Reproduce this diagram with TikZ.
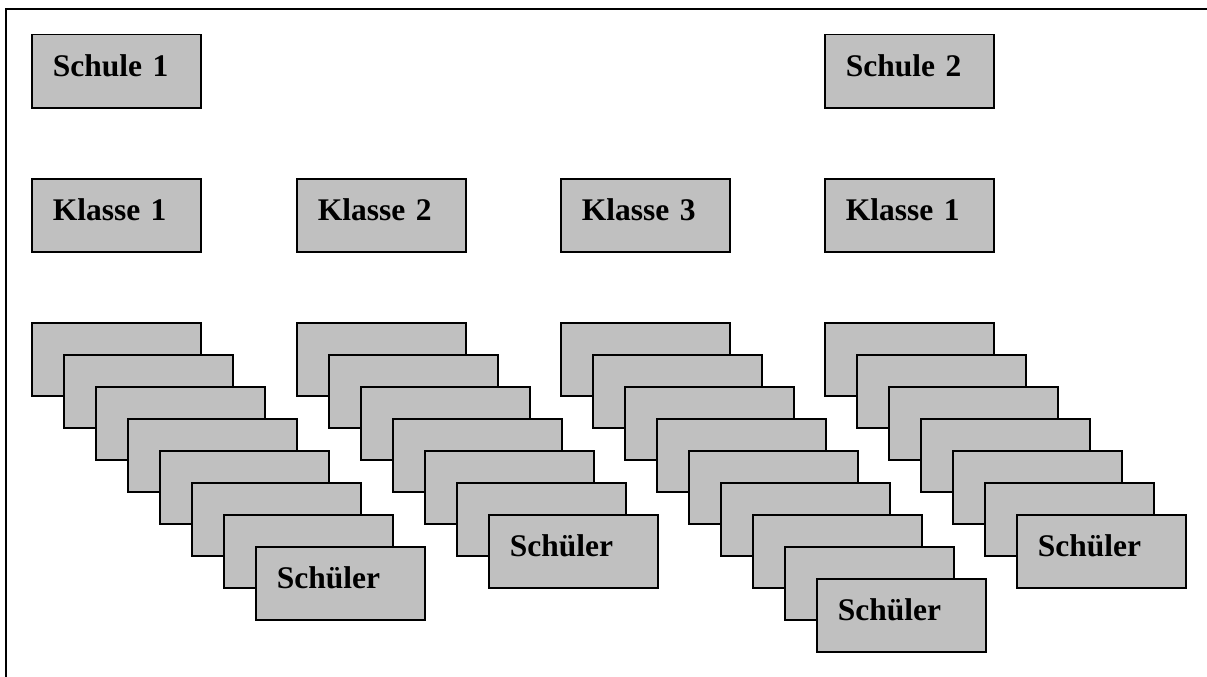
\documentclass[tikz,border=0pt]{standalone}
\usepackage{fontspec}
\setmainfont{Liberation Serif}
\definecolor{boxgray}{HTML}{C0C0C0}
\begin{document}
\begin{tikzpicture}[x=1pt,y=-1pt,
  box/.style={draw=black, line width=1.5pt, fill=boxgray, anchor=north west,
    rectangle, inner xsep=21pt, inner ysep=0pt, text width=127pt,
    minimum height=73pt, align=left, text height=21pt, text depth=10pt,
    font=\fontsize{31.5}{36}\selectfont\bfseries}]
\useasboundingbox (0,0) rectangle (1207,677);
\draw[line width=2pt] (6,677) -- (6,9) -- (1207,9);
% schools
\node[box] (schule1) at (31,34) {Schule 1};
\node[box] (schule2) at (824,34) {Schule 2};
% classes
\node[box] (klasse1a) at (31,178) {Klasse 1};
\node[box] (klasse2) at (296,178) {Klasse 2};
\node[box] (klasse3) at (560,178) {Klasse 3};
\node[box] (klasse1b) at (824,178) {Klasse 1};
% pupils
\foreach \sx/\n [count=\k] in {31/8,296/7,560/9,824/7}{
  \foreach \i in {1,...,\n}{
    \ifnum\i=\n \def\t{Schüler}\else\def\t{}\fi
    \node[box] (p\k-\i) at ({\sx+32*(\i-1)},{322+32*(\i-1)}) {\t};
  }
}
\end{tikzpicture}
\end{document}
